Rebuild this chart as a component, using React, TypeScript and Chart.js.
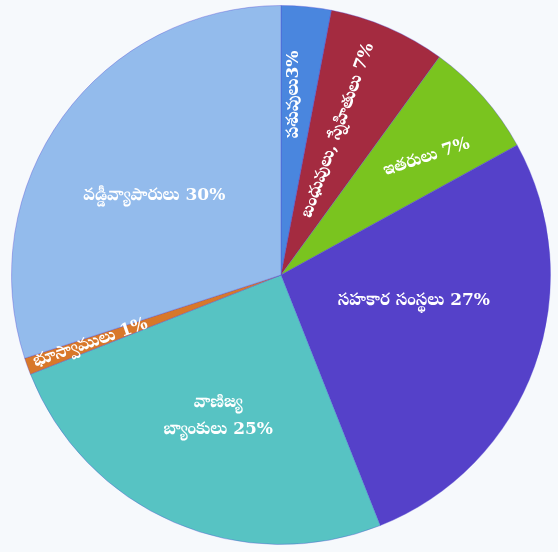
import React, { useEffect, useRef } from "react";
import { Chart, registerables } from "chart.js";

Chart.register(...registerables);

const categories = [
  "పశువులు",
  "బంధువులు, స్నేహితులు",
  "ఇతరులు",
  "సహకార సంస్థలు",
  "వాణిజ్య బ్యాంకులు",
  "భూస్వాములు",
  "వడ్డీవ్యాపారులు",
];
const shares = [3, 7, 7, 27, 25, 1, 30];
const labelLines = [
  ["పశువులు3%"],
  ["బంధువులు, స్నేహితులు 7%"],
  ["ఇతరులు 7%"],
  ["సహకార సంస్థలు 27%"],
  ["వాణిజ్య", "బ్యాంకులు 25%"],
  ["భూస్వాములు 1%"],
  ["వడ్డీవ్యాపారులు 30%"],
];
const sliceColors = ["#4a86de", "#a42b40", "#7ac41f", "#5541c9", "#57c3c3", "#d8782a", "#93bbec"];

// label placement: offset from centre as fraction of radius, rotation in degrees
const labelPlacement = [
  { fx: 0.048, fy: -0.67, rot: -90 },
  { fx: 0.211, fy: -0.537, rot: -70 },
  { fx: 0.54, fy: -0.437, rot: -18 },
  { fx: 0.493, fy: 0.096, rot: 0 },
  { fx: -0.233, fy: 0.522, rot: 0 },
  { fx: -0.707, fy: 0.252, rot: -19 },
  { fx: -0.47, fy: -0.296, rot: 0 },
];

const labelPlugin = {
  id: "sliceLabels",
  afterDatasetsDraw(chart: any) {
    const meta = chart.getDatasetMeta(0);
    const ctx = chart.ctx;
    meta.data.forEach((arc: any, i: number) => {
      const { x, y, outerRadius } = arc.getProps(["x", "y", "outerRadius"], true);
      const p = labelPlacement[i];
      const lx = x + p.fx * outerRadius;
      const ly = y + p.fy * outerRadius;
      ctx.save();
      ctx.translate(lx, ly);
      ctx.rotate((p.rot * Math.PI) / 180);
      ctx.fillStyle = "#ffffff";
      ctx.font = 'bold 17px "DejaVu Serif", "Noto Serif Telugu", "Noto Sans Telugu", serif';
      ctx.textAlign = "center";
      ctx.textBaseline = "middle";
      const lines = labelLines[i];
      const lh = 27;
      lines.forEach((t, k) => {
        ctx.fillText(t, 0, (k - (lines.length - 1) / 2) * lh);
      });
      ctx.restore();
    });
  },
};

export default function App() {
  const ref = useRef<HTMLCanvasElement>(null);
  useEffect(() => {
    if (!ref.current) return;
    const chart = new Chart(ref.current, {
      type: "pie",
      data: {
        labels: categories,
        datasets: [
          {
            data: shares,
            backgroundColor: sliceColors,
            borderWidth: 1,
            borderColor: "rgba(80,70,210,0.35)",
          },
        ],
      },
      options: {
        responsive: false,
        animation: false,
        layout: { padding: { left: 11, right: 7, top: 5, bottom: 7 } },
        plugins: {
          legend: { display: false },
          tooltip: { enabled: false },
        },
      },
      plugins: [labelPlugin],
    });
    return () => chart.destroy();
  }, []);
  return (
    <div
      style={{
        position: "fixed",
        left: 0,
        top: 0,
        width: 558,
        height: 552,
        background: "#f6f9fc",
      }}
    >
      <canvas ref={ref} width={558} height={552} style={{ display: "block" }} />
    </div>
  );
}
